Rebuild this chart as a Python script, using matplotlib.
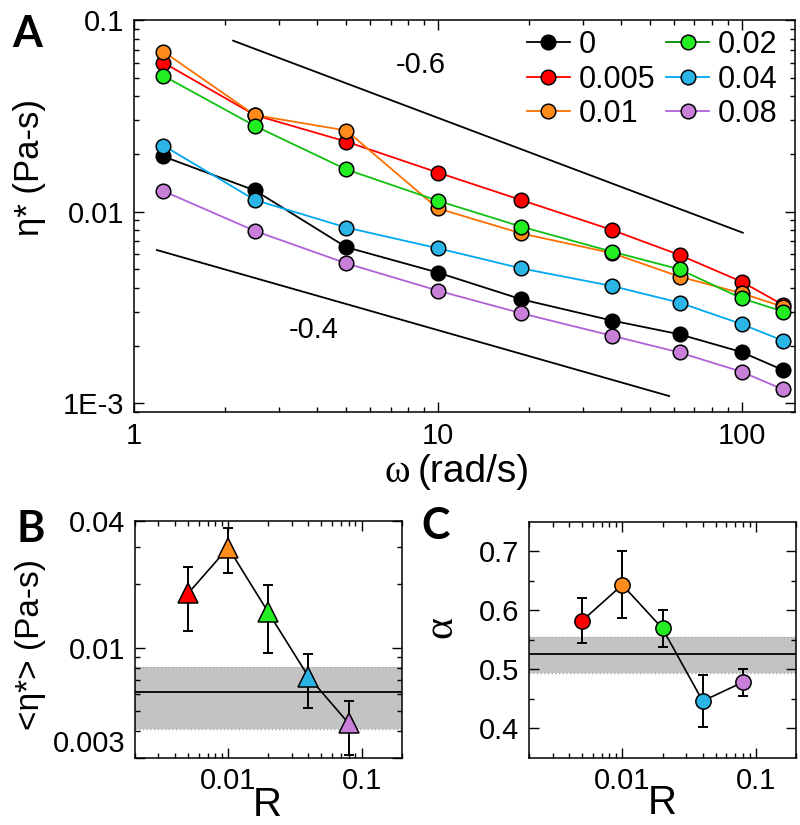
import numpy as np
import matplotlib
matplotlib.use("Agg")
import matplotlib.pyplot as plt
from matplotlib.ticker import LogLocator, NullFormatter, FixedLocator

plt.rcParams['font.family'] = ['Liberation Sans', 'DejaVu Sans']

# ---------------- data ----------------
omega = [1.25, 2.5, 5.0, 10.0, 18.8, 37.5, 62.5, 100.0, 137.0]
R_labels = ['0', '0.005', '0.01', '0.02', '0.04', '0.08']
eta_0 = [0.0194, 0.0129, 0.00652, 0.00481, 0.00349, 0.00270, 0.00229, 0.00185, 0.00149]
eta_0005 = [0.0599, 0.0319, 0.0232, 0.0160, 0.0115, 0.00802, 0.00594, 0.00431, 0.00326]
eta_001 = [0.0684, 0.0319, 0.0265, 0.0104, 0.0077, 0.00607, 0.00458, 0.00375, 0.00319]
eta_002 = [0.0511, 0.0280, 0.0166, 0.0114, 0.00835, 0.00618, 0.00500, 0.00353, 0.00301]
eta_004 = [0.0221, 0.0115, 0.00826, 0.00644, 0.00506, 0.00409, 0.00335, 0.00259, 0.00212]
eta_008 = [0.0128, 0.00793, 0.00537, 0.00387, 0.00295, 0.00225, 0.00184, 0.00146, 0.00118]

slope06_omega = [2.12, 101.0]
slope06_eta = [0.078, 0.00776]
slope04_omega = [1.19, 57.8]
slope04_eta = [0.0063, 0.00109]

R = [0.005, 0.01, 0.02, 0.04, 0.08]
eta_mean = [0.0181, 0.0299, 0.0147, 0.00728, 0.00437]
eta_lo = [0.0120, 0.0226, 0.00947, 0.00515, 0.00309]
eta_hi = [0.0241, 0.0369, 0.0198, 0.00933, 0.0056]
eta_ref = 0.00616
eta_ref_lo = 0.00409
eta_ref_hi = 0.00812

alpha_mean = [0.582, 0.643, 0.569, 0.446, 0.478]
alpha_lo = [0.544, 0.586, 0.538, 0.402, 0.454]
alpha_hi = [0.620, 0.701, 0.600, 0.490, 0.501]
alpha_ref = 0.525
alpha_ref_lo = 0.494
alpha_ref_hi = 0.555

# ---------------- styles ----------------
marker_colors = ['#000000', '#ff0000', '#ff8c1a', '#22ee22', '#2ab5e6', '#c77fd8']
line_colors = ['#000000', '#ff0000', '#ff7000', '#11c011', '#00a8f0', '#b060d8']
legend_line_colors = ['#000000', '#ff0000', '#ff7000', '#008800', '#00a8f0', '#b060d8']
series = [eta_0, eta_0005, eta_001, eta_002, eta_004, eta_008]

W, H = 800, 825
fig = plt.figure(figsize=(8, 8.25), dpi=100)

def box(l, t, r, b):
    return [l / W, 1 - b / H, (r - l) / W, (b - t) / H]

def style_axes(ax, lab=20):
    for s in ax.spines.values():
        s.set_linewidth(1.1)
    ax.tick_params(which='both', direction='in', top=True, right=True, width=1.0,
                   labelsize=lab, pad=7)
    ax.tick_params(which='major', length=7)
    ax.tick_params(which='minor', length=3.5)

# ---------------- Panel A ----------------
axA = fig.add_axes(box(134, 20, 795, 412))
axA.set_xscale('log')
axA.set_yscale('log')
for ys, mc, lc in zip(series, marker_colors, line_colors):
    axA.plot(omega, ys, '-', color=lc, lw=1.3, zorder=2)
    axA.plot(omega, ys, 'o', color=mc, mec='black', mew=1.1, ms=10.5, zorder=3)
axA.plot(slope06_omega, slope06_eta, color='black', lw=1.3)
axA.plot(slope04_omega, slope04_eta, color='black', lw=1.3)
axA.text(8.77, 0.058, '-0.6', fontsize=21, ha='center', va='center')
axA.text(3.9, 0.00241, '-0.4', fontsize=21, ha='center', va='center')
axA.set_xlim(1, 150)
axA.set_ylim(9.0e-4, 0.1)
axA.set_xticks([1, 10, 100])
axA.set_xticklabels(['1', '10', '100'])
axA.set_yticks([0.001, 0.01, 0.1])
axA.set_yticklabels(['1E-3', '0.01', '0.1'])
axA.xaxis.set_minor_locator(LogLocator(base=10, subs=np.arange(2, 10)))
axA.yaxis.set_minor_locator(LogLocator(base=10, subs=np.arange(2, 10)))
axA.xaxis.set_minor_formatter(NullFormatter())
axA.yaxis.set_minor_formatter(NullFormatter())
style_axes(axA, 21)

handles = []
for lab, mc, lc in zip(R_labels, marker_colors, legend_line_colors):
    h, = axA.plot([], [], '-o', color=lc, mfc=mc, mec='black', mew=1.1, ms=10.5, lw=1.3, label=lab)
    handles.append(h)
axA.legend(handles=handles, ncol=2, frameon=False, loc='upper left',
           bbox_to_anchor=((527 - 134) / 661, (412 - 30) / 392), fontsize=22,
           handlelength=1.4, handletextpad=0.3, columnspacing=0.35,
           labelspacing=0.15, borderpad=0, borderaxespad=0)

fig.text(410 / W, 1 - 472 / H, 'ω', family='Liberation Serif', fontsize=28,
         ha='right', va='center')
fig.text(418 / W, 1 - 472 / H, '(rad/s)', fontsize=28, ha='left', va='center')
fig.text(30 / W, 1 - 168 / H, 'η* (Pa-s)', fontsize=25, rotation=90,
         ha='center', va='center')
fig.text(27 / W, 1 - 34 / H, 'A', family='Lato', weight='bold', fontsize=31,
         ha='center', va='center')

# ---------------- Panel B ----------------
axB = fig.add_axes(box(135, 521, 401.7, 757.7))
axB.set_xscale('log')
axB.set_yscale('log')
axB.axhspan(eta_ref_lo, eta_ref_hi, color='#c3c3c3', lw=0, zorder=0)
axB.axhline(eta_ref_lo, color='#a8a8a8', lw=1, ls=':', zorder=0.5)
axB.axhline(eta_ref_hi, color='#a8a8a8', lw=1, ls=':', zorder=0.5)
axB.axhline(eta_ref, color='black', lw=1.3, zorder=1)
axB.plot(R, eta_mean, '-', color='black', lw=1.2, zorder=2)
yerrB = [np.array(eta_mean) - np.array(eta_lo), np.array(eta_hi) - np.array(eta_mean)]
axB.errorbar(R, eta_mean, yerr=yerrB, fmt='none', ecolor='black', elinewidth=1.4,
             capsize=3.5, capthick=1.4, zorder=3)
for x, y, c in zip(R, eta_mean, marker_colors[1:]):
    axB.plot([x], [y], '^', color=c, mec='black', mew=1.1, ms=14, zorder=4)
axB.set_xlim(0.002, 0.2)
axB.set_ylim(0.003, 0.04)
axB.set_xticks([0.01, 0.1])
axB.set_xticklabels(['0.01', '0.1'])
axB.set_yticks([0.003, 0.01, 0.04])
axB.set_yticklabels(['0.003', '0.01', '0.04'])
axB.xaxis.set_minor_locator(LogLocator(base=10, subs=np.arange(2, 10)))
axB.yaxis.set_minor_locator(FixedLocator([0.004, 0.005, 0.006, 0.007, 0.008, 0.009, 0.02, 0.03]))
axB.xaxis.set_minor_formatter(NullFormatter())
axB.yaxis.set_minor_formatter(NullFormatter())
style_axes(axB, 21)
ylabsB = axB.get_yticklabels()
ylabsB[0].set_va('bottom')

fig.text(31 / W, 1 - 645 / H, '<η*> (Pa-s)', fontsize=24, rotation=90,
         ha='center', va='center')
fig.text(267 / W, 1 - 805 / H, 'R', fontsize=29, ha='center', va='center')
fig.text(31 / W, 1 - 529 / H, 'B', family='Lato', weight='bold', fontsize=31,
         ha='center', va='center')

# ---------------- Panel C ----------------
axC = fig.add_axes(box(529, 521.7, 796, 757.7))
axC.set_xscale('log')
axC.axhspan(alpha_ref_lo, alpha_ref_hi, color='#c3c3c3', lw=0, zorder=0)
axC.axhline(alpha_ref_lo, color='#a8a8a8', lw=1, ls=':', zorder=0.5)
axC.axhline(alpha_ref_hi, color='#a8a8a8', lw=1, ls=':', zorder=0.5)
axC.axhline(alpha_ref, color='black', lw=1.3, zorder=1)
axC.plot(R, alpha_mean, '-', color='black', lw=1.2, zorder=2)
yerrC = [np.array(alpha_mean) - np.array(alpha_lo), np.array(alpha_hi) - np.array(alpha_mean)]
axC.errorbar(R, alpha_mean, yerr=yerrC, fmt='none', ecolor='black', elinewidth=1.4,
             capsize=3.5, capthick=1.4, zorder=3)
for x, y, c in zip(R, alpha_mean, marker_colors[1:]):
    axC.plot([x], [y], 'o', color=c, mec='black', mew=1.1, ms=11, zorder=4)
axC.set_xlim(0.002, 0.2)
axC.set_ylim(0.35, 0.75)
axC.set_xticks([0.01, 0.1])
axC.set_xticklabels(['0.01', '0.1'])
axC.set_yticks([0.4, 0.5, 0.6, 0.7])
axC.set_yticklabels(['0.4', '0.5', '0.6', '0.7'])
axC.yaxis.set_minor_locator(FixedLocator([0.45, 0.55, 0.65]))
axC.xaxis.set_minor_locator(LogLocator(base=10, subs=np.arange(2, 10)))
axC.xaxis.set_minor_formatter(NullFormatter())
style_axes(axC, 21)

fig.text(441 / W, 1 - 627 / H, 'α', family='Liberation Serif', fontsize=30,
         rotation=90, ha='center', va='center')
fig.text(662 / W, 1 - 803 / H, 'R', fontsize=29, ha='center', va='center')
fig.text(436 / W, 1 - 526 / H, 'C', family='Lato', weight='bold', fontsize=31,
         ha='center', va='center')

fig.savefig('out.png', dpi=100)
